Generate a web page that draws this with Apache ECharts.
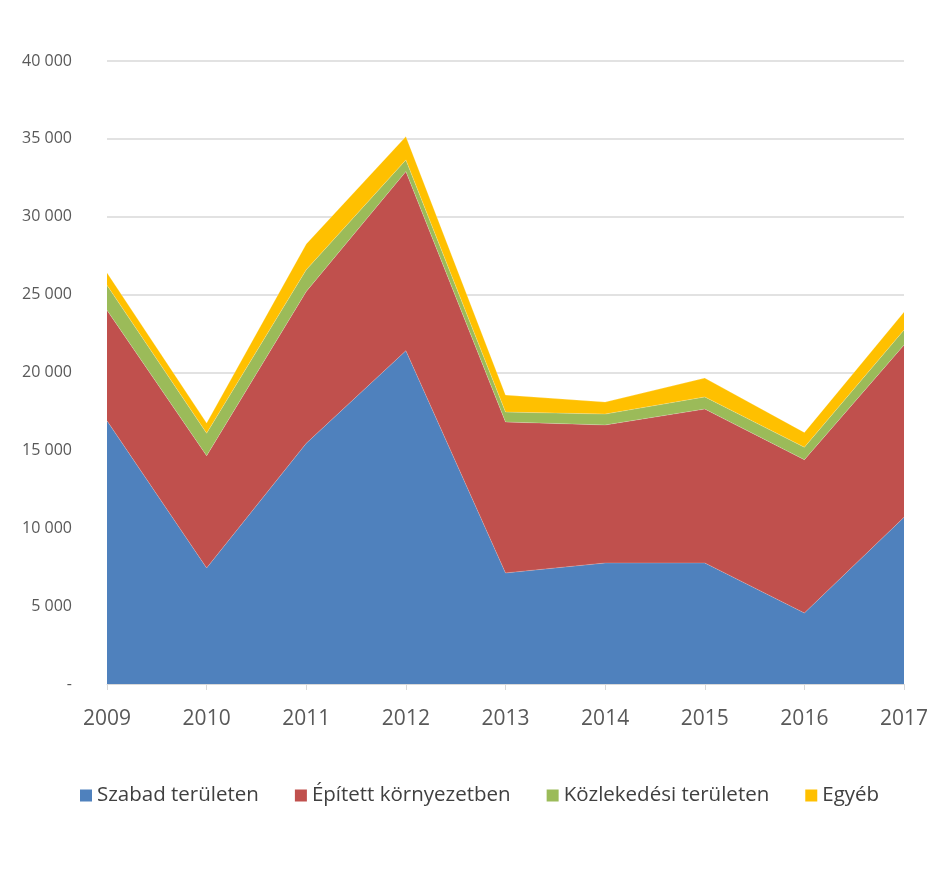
<!DOCTYPE html>
<html>
<head>
<meta charset="utf-8">
<script src="https://cdn.jsdelivr.net/npm/echarts@6/dist/echarts.min.js"></script>
<style>html,body{margin:0;padding:0;background:#fff;}#c{width:952px;height:882px;}</style>
</head>
<body>
<div id="c"></div>
<script>
const years = ['2009','2010','2011','2012','2013','2014','2015','2016','2017'];
const szabad = [16900, 7450, 15450, 21400, 7130, 7770, 7770, 4560, 10700];
const epitett = [7100, 7200, 9750, 11500, 9690, 8860, 9880, 9840, 11060];
const kozlekedesi = [1600, 1450, 1400, 750, 640, 700, 780, 800, 970];
const egyeb = [800, 650, 1650, 1500, 1090, 770, 1210, 950, 1150];
const yTicks = {0:'-',5000:'5 000',10000:'10 000',15000:'15 000',20000:'20 000',25000:'25 000',30000:'30 000',35000:'35 000',40000:'40 000'};

const names = ['Szabad területen','Épített környezetben','Közlekedési területen','Egyéb'];
const colors = ['#4f81bd','#c0504d','#9bbb59','#ffc000'];
const dataSets = [szabad, epitett, kozlekedesi, egyeb];

const chart = echarts.init(document.getElementById('c'));
chart.setOption({
  animation: false,
  textStyle: {fontFamily: 'Open Sans'},
  grid: {left: 107, right: 48, top: 61, bottom: 198},
  legend: {
    bottom: 71, left: 75,
    itemWidth: 12, itemHeight: 12, itemGap: 36,
    icon: 'rect',
    textStyle: {fontSize: 20.5, color: '#404040', fontFamily: 'Open Sans'},
    data: names
  },
  xAxis: {
    type: 'category', data: years, boundaryGap: false,
    axisLine: {lineStyle: {color: '#d9d9d9'}},
    axisTick: {show: true, length: 6, lineStyle: {color: '#d9d9d9'}},
    axisLabel: {fontSize: 21, color: '#595959', margin: 25}
  },
  yAxis: {
    type: 'value', min: 0, max: 40000, interval: 5000,
    axisLine: {show: false}, axisTick: {show: false},
    splitLine: {lineStyle: {color: '#d9d9d9', width: 1.5}},
    axisLabel: {fontSize: 16, color: '#595959', margin: 35,
      formatter: v => yTicks[v] !== undefined ? yTicks[v] : ''}
  },
  series: dataSets.map((d, i) => ({
    name: names[i], type: 'line', stack: 'total', data: d,
    showSymbol: false, symbol: 'none',
    lineStyle: {width: 0.5, color: 'rgba(255,255,255,0.4)'},
    itemStyle: {color: colors[i]},
    areaStyle: {color: colors[i], opacity: 1}
  }))
});
</script>
</body>
</html>
